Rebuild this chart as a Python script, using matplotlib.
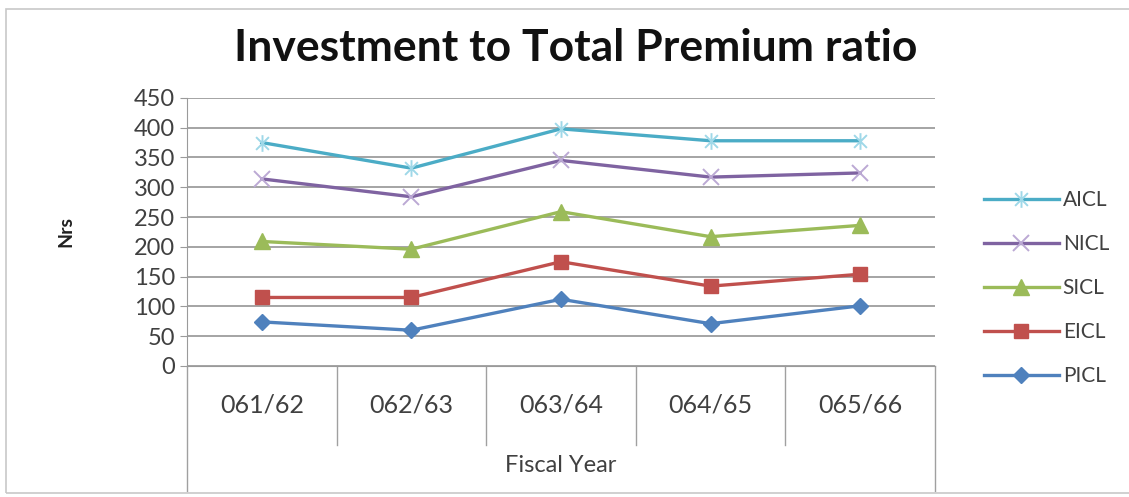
import numpy as np
import matplotlib.pyplot as plt
from matplotlib.path import Path
from matplotlib.patches import Rectangle

plt.rcParams['font.family'] = ['Lato', 'DejaVu Sans']

years = ['061/62', '062/63', '063/64', '064/65', '065/66']
aicl = [375, 332, 398, 378, 378]
nicl = [314, 284, 345, 317, 324]
sicl = [209, 196, 259, 217, 236]
eicl = [115, 115, 175, 134, 154]
picl = [74, 60, 112, 71, 101]

# Excel style asterisk marker: an x with a vertical bar through it
star = Path([(-1, -1), (1, 1), (-1, 1), (1, -1), (0, -1.3), (0, 1.3)],
            [Path.MOVETO, Path.LINETO, Path.MOVETO, Path.LINETO, Path.MOVETO, Path.LINETO])

fig = plt.figure(figsize=(11.29, 4.97), dpi=100)
fig.patches.append(Rectangle((0.005, 0.008), 1.2, 0.974, transform=fig.transFigure,
                             fill=False, edgecolor='#c8c8c8', lw=1.2))

ax = fig.add_axes([0.1656, 0.2636, 0.6625, 0.5395])
x = np.arange(len(years))

ax.plot(x, aicl, color='#4BACC6', lw=2.4, marker=star, ms=12, mew=1.4,
        mec='#9fd8e8', label='AICL')
ax.plot(x, nicl, color='#7F63A1', lw=2.4, marker='x', ms=12, mew=1.4,
        mec='#bba9d4', label='NICL')
ax.plot(x, sicl, color='#9BBB59', lw=2.4, marker='^', ms=11, label='SICL')
ax.plot(x, eicl, color='#C0504D', lw=2.4, marker='s', ms=10, label='EICL')
ax.plot(x, picl, color='#4F81BD', lw=2.4, marker='D', ms=8, label='PICL')

ax.set_xlim(-0.5, 4.5)
ax.set_ylim(0, 450)
ax.set_yticks(range(0, 451, 50))
ax.yaxis.grid(True, color='#8c8c8c', lw=1.1)
ax.set_axisbelow(True)
for s in ['top', 'right']:
    ax.spines[s].set_visible(False)
ax.spines['left'].set_color('#9a9a9a')
ax.spines['bottom'].set_color('#9a9a9a')
ax.tick_params(axis='y', colors='#9a9a9a', length=5, labelsize=17, labelcolor='#404040')
ax.set_xticks(x, years)
ax.tick_params(axis='x', length=0, pad=20, labelsize=18, labelcolor='#404040')

# category table lines under the axis
tr = ax.get_xaxis_transform()
for d in np.arange(0.5, 4, 1.0):
    ax.plot([d, d], [0, -0.295], transform=tr, color='#a0a0a0', lw=1, clip_on=False)
for d in [-0.5, 4.5]:
    ax.plot([d, d], [0, -0.465], transform=tr, color='#a0a0a0', lw=1, clip_on=False)
ax.text(2, -0.37, 'Fiscal Year', transform=tr, ha='center', va='center',
        fontsize=17, color='#404040')

ax.set_ylabel('Nrs', fontsize=14, fontweight='bold', color='#202020')
ax.yaxis.set_label_coords(-0.15, 0.5)
fig.text(0.51, 0.903, 'Investment to Total Premium ratio', ha='center', va='center',
         fontsize=32, fontweight='bold', color='#111111')

ax.legend(loc='center left', bbox_to_anchor=(1.04, 0.29), frameon=False,
          fontsize=15, labelspacing=1.15, handlelength=3.6, handletextpad=0.2,
          labelcolor='#404040')

fig.savefig('out.png', dpi=100, facecolor='white')
